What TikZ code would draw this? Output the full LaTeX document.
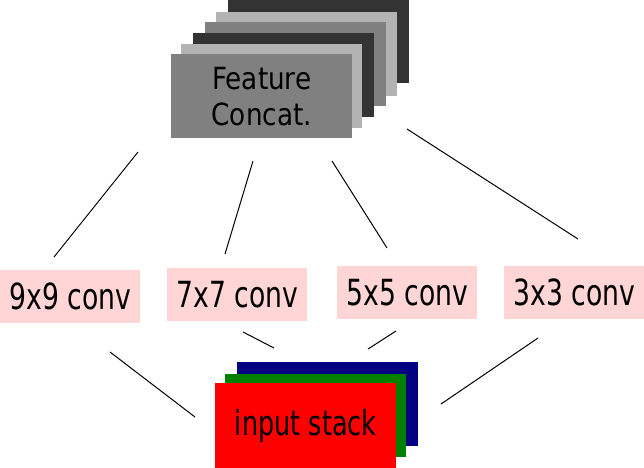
\documentclass[tikz,border=0pt]{standalone}
\usepackage{fontspec}
\newfontfamily\convfont[FakeStretch=0.74]{DejaVu Sans}
\newfontfamily\featfont[FakeStretch=0.86]{DejaVu Sans}
\definecolor{darkg}{HTML}{333333}
\definecolor{lightg}{HTML}{B3B3B3}
\definecolor{midg}{HTML}{808080}
\definecolor{pinkbox}{HTML}{FFD5D5}
\definecolor{navyb}{HTML}{000080}
\definecolor{greenb}{HTML}{008000}
\definecolor{redb}{HTML}{FF0000}
\tikzset{
  layer/.style={draw=none, inner sep=0pt, anchor=north west, minimum width=181pt, minimum height=84pt},
  convbox/.style={fill=pinkbox, draw=none, inner sep=0pt, anchor=north west, minimum width=140pt, minimum height=53pt,
    font=\convfont\fontsize{36}{40}\selectfont},
  link/.style={draw=black, line width=1pt}
}
\begin{document}
\begin{tikzpicture}[x=1pt, y=-1pt]
\useasboundingbox (0,0) rectangle (644,467);
\clip (0,0) rectangle (644,467);
% top stack (back to front)
\node[layer, fill=darkg, minimum height=100pt] (t1) at (228,-17) {};
\node[layer, fill=lightg] (t2) at (216,12) {};
\node[layer, fill=midg] (t3) at (205,22) {};
\node[layer, fill=darkg] (t4) at (193,33) {};
\node[layer, fill=lightg] (t5) at (181,44) {};
\node[layer, fill=midg, align=center, font=\featfont\fontsize{30.5}{36}\selectfont] (feat) at (171,54) {Feature\\Concat.};
% conv boxes
\node[convbox] (c9) at (0,270) {9x9 conv};
\node[convbox] (c7) at (167,268) {7x7 conv};
\node[convbox] (c5) at (337,266) {5x5 conv};
\node[convbox] (c3) at (504,266) {3x3 conv};
% bottom stack
\node[layer, fill=navyb] (b1) at (237,362) {};
\node[layer, fill=greenb, minimum height=83pt] (b2) at (225,374) {};
\node[layer, fill=redb, minimum height=86pt, font=\convfont\fontsize{34.5}{40}\selectfont] (inp) at (215,383) {input stack};
% connector end points
\coordinate (a1) at (138,152); \coordinate (a2) at (54,257);
\coordinate (b1s) at (253,161); \coordinate (b2s) at (225,254);
\coordinate (d1) at (332,161); \coordinate (d2) at (387,248);
\coordinate (e1) at (407,129); \coordinate (e2) at (578,239);
\coordinate (f1) at (110,352); \coordinate (f2) at (195,417);
\coordinate (g1) at (243,332); \coordinate (g2) at (274,348);
\coordinate (h1) at (396,331); \coordinate (h2) at (368,349);
\coordinate (k1) at (538,338); \coordinate (k2) at (441,404);
\draw[link] (a1) -- (a2);
\draw[link] (b1s) -- (b2s);
\draw[link] (d1) -- (d2);
\draw[link] (e1) -- (e2);
\draw[link] (f1) -- (f2);
\draw[link] (g1) -- (g2);
\draw[link] (h1) -- (h2);
\draw[link] (k1) -- (k2);
\end{tikzpicture}
\end{document}
